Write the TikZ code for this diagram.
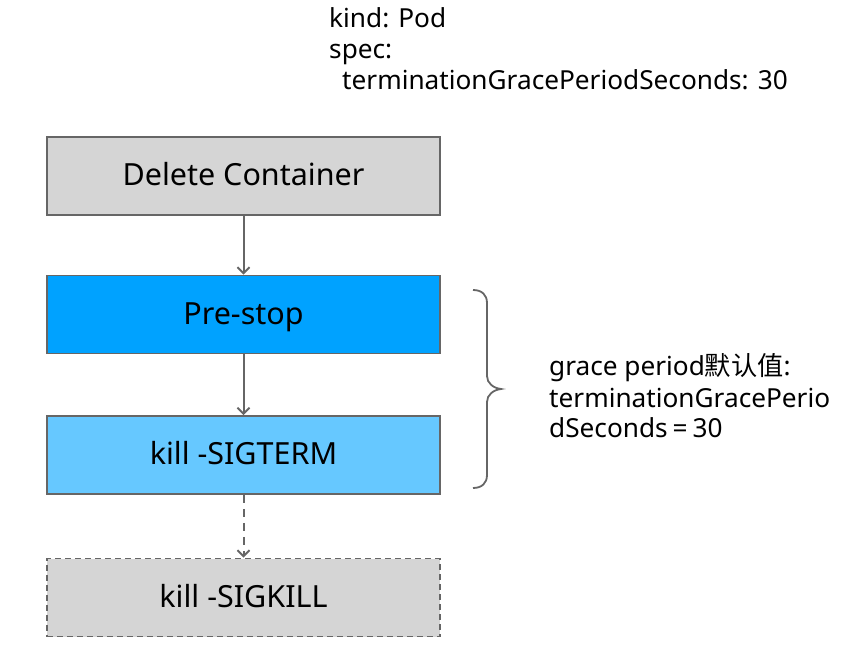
\documentclass[tikz,border=0pt]{standalone}
\usepackage{fontspec}
\setmainfont{Noto Sans}
\newfontfamily\cjkfont{Noto Sans CJK SC}
\usetikzlibrary{arrows.meta}
\definecolor{edgegray}{HTML}{666666}
\definecolor{boxgray}{HTML}{D5D5D5}
\definecolor{blueA}{HTML}{00A2FF}
\definecolor{blueB}{HTML}{66C8FF}
\begin{document}
\begin{tikzpicture}[x=1pt,y=-1pt,
  stepbox/.style={draw=edgegray,line width=1.8pt,minimum width=393pt,minimum height=78pt,inner sep=0pt,
    text height=21.8pt,text depth=2pt,
    font=\fontsize{30.5}{36}\selectfont,text=black},
  lbl/.style={anchor=base west,inner sep=0pt,font=\fontsize{26.2}{31}\selectfont,text=black},
  arr/.style={draw=edgegray,line width=2pt,-{Straight Barb[length=6pt,width=12pt,line width=2pt]}}
]
\useasboundingbox (0,0) rectangle (844,668);
\node[stepbox,fill=boxgray] (dc) at (243.5,176) {Delete Container};
\node[stepbox,fill=blueA] (ps) at (243.5,314.5) {Pre-stop};
\node[stepbox,fill=blueB] (st) at (243.5,455) {kill -SIGTERM};
\node[stepbox,fill=boxgray,dash pattern=on 6pt off 4pt] (sk) at (243.5,597.5) {kill -SIGKILL};
\draw[arr] (dc) -- (ps);
\draw[arr] (ps) -- (st);
\draw[arr,dash pattern=on 8pt off 6pt] (st) -- (sk);
\node[lbl] (t1) at (329,28) {kind: Pod};
\node[lbl] (t2) at (329,59) {spec:};
\node[lbl] (t3) at (342,90) {terminationGracePeriodSeconds: 30};
\draw[edgegray,line width=1.8pt] (473,290) .. controls (482,290) and (487,295) .. (487,303) -- (487,376)
  .. controls (487,383) and (493,388) .. (501,389) .. controls (493,390) and (487,395) .. (487,402)
  -- (487,475) .. controls (487,483) and (482,488) .. (473,488);
\node[lbl] (g1) at (549,376) {grace period{\cjkfont 默认值}:};
\node[lbl] (g2) at (549,407) {terminationGracePerio};
\node[lbl] (g3) at (549,438) {dSeconds\hspace{5pt}=\hspace{5pt}30};
\end{tikzpicture}
\end{document}
